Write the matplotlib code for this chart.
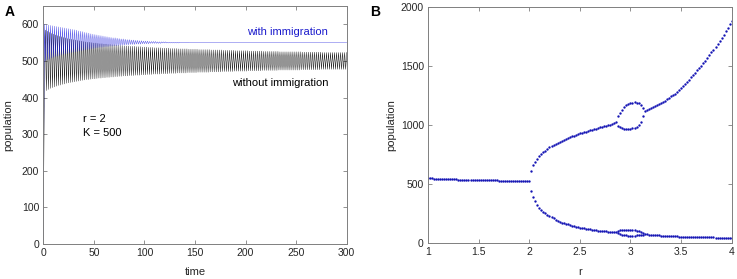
import numpy as np
import matplotlib
matplotlib.use("Agg")
import matplotlib.pyplot as plt

plt.rcParams['font.family'] = ['Liberation Sans', 'DejaVu Sans']

# ---------------- Panel A data (time series, r = 2, K = 500) ----------------
time_max = 300
black_start = 10
# without immigration: values at odd steps (troughs) and even steps (peaks)
black_troughs = [
    416, 419, 422, 425, 427, 429, 431, 433, 434, 436,
    437, 439, 440, 441, 442, 443, 444, 445, 446, 447,
    448, 449, 449, 450, 451, 451, 452, 453, 453, 454,
    454, 455, 455, 456, 456, 457, 457, 458, 458, 459,
    459, 459, 460, 460, 460, 461, 461, 461, 462, 462,
    462, 463, 463, 463, 464, 464, 464, 464, 465, 465,
    465, 465, 466, 466, 466, 466, 467, 467, 467, 467,
    467, 468, 468, 468, 468, 468, 469, 469, 469, 469,
    469, 469, 470, 470, 470, 470, 470, 470, 471, 471,
    471, 471, 471, 471, 472, 472, 472, 472, 472, 472,
    472, 473, 473, 473, 473, 473, 473, 473, 474, 474,
    474, 474, 474, 474, 474, 474, 475, 475, 475, 475,
    475, 475, 475, 475, 475, 475, 475, 476, 476, 476,
    476, 476, 476, 476, 476, 476, 476, 477, 477, 477,
    477, 477, 477, 477, 477, 477, 477, 477, 477, 477,
]
black_peaks = [
    584, 581, 578, 575, 573, 571, 569, 567, 566, 564,
    563, 561, 560, 559, 558, 557, 556, 555, 554, 553,
    552, 551, 551, 550, 549, 549, 548, 547, 547, 546,
    546, 545, 545, 544, 544, 543, 543, 542, 542, 541,
    541, 541, 540, 540, 540, 539, 539, 539, 538, 538,
    538, 537, 537, 537, 536, 536, 536, 536, 535, 535,
    535, 535, 534, 534, 534, 534, 533, 533, 533, 533,
    533, 532, 532, 532, 532, 532, 531, 531, 531, 531,
    531, 531, 530, 530, 530, 530, 530, 530, 529, 529,
    529, 529, 529, 529, 528, 528, 528, 528, 528, 528,
    528, 527, 527, 527, 527, 527, 527, 527, 526, 526,
    526, 526, 526, 526, 526, 526, 525, 525, 525, 525,
    525, 525, 525, 525, 525, 525, 525, 524, 524, 524,
    524, 524, 524, 524, 524, 524, 524, 523, 523, 523,
    523, 523, 523, 523, 523, 523, 523, 523, 523, 523,
]
# with immigration
blue_start = 10
blue_peaks = [
    600, 599, 598, 597, 596, 595, 594, 593, 592, 591,
    590, 589, 588, 587, 586, 585, 584, 582, 581, 580,
    578, 577, 576, 574, 573, 572, 571, 570, 569, 568,
    567, 566, 565, 564, 563, 563, 562, 561, 560, 560,
    559, 558, 558, 557, 557, 556, 556, 555, 555, 554,
    554, 554, 553, 553, 553, 553, 552, 552, 552, 552,
    552, 551, 551, 551, 551, 551, 551, 551, 551, 551,
    551, 551, 550, 550, 550, 550, 550, 550, 550, 550,
    550, 550, 550, 550, 550, 550, 550, 550, 550, 550,
    550, 550, 550, 550, 550, 550, 550, 550, 550, 550,
    550, 550, 550, 550, 550, 550, 550, 550, 550, 550,
    550, 550, 550, 550, 550, 550, 550, 550, 550, 550,
    550, 550, 550, 550, 550, 550, 550, 550, 550, 550,
    550, 550, 550, 550, 550, 550, 550, 550, 550, 550,
    550, 550, 550, 550, 550, 550, 550, 550, 550, 550,
]
blue_troughs = [
    500, 503, 505, 508, 510, 512, 513, 515, 517, 518,
    519, 521, 522, 523, 524, 525, 526, 527, 528, 529,
    530, 531, 532, 533, 534, 535, 536, 537, 537, 538,
    539, 539, 540, 540, 541, 541, 542, 542, 543, 543,
    544, 544, 545, 545, 545, 546, 546, 546, 547, 547,
    547, 547, 548, 548, 548, 548, 548, 548, 549, 549,
    549, 549, 549, 549, 549, 549, 549, 550, 550, 550,
    550, 550, 550, 550, 550, 550, 550, 550, 550, 550,
    550, 550, 550, 550, 550, 550, 550, 550, 550, 550,
    550, 550, 550, 550, 550, 550, 550, 550, 550, 550,
    550, 550, 550, 550, 550, 550, 550, 550, 550, 550,
    550, 550, 550, 550, 550, 550, 550, 550, 550, 550,
    550, 550, 550, 550, 550, 550, 550, 550, 550, 550,
    550, 550, 550, 550, 550, 550, 550, 550, 550, 550,
    550, 550, 550, 550, 550, 550, 550, 550, 550, 550,
]

# ---------------- Panel B data (bifurcation diagram) ----------------
pop_single = [  # r = 1.00 .. 2.00
    550, 549, 548, 547, 547, 546, 545, 544, 544, 543,
    542, 542, 541, 540, 540, 539, 539, 538, 538, 537,
    537, 536, 536, 535, 535, 534, 534, 533, 533, 533,
    532, 532, 531, 531, 531, 530, 530, 530, 529, 529,
    529, 528, 528, 528, 528, 527, 527, 527, 526, 526, 526,
]
upper_pre = [  # r = 2.02 .. 2.86
    615, 660, 690, 714, 734, 752, 768, 783, 797, 810,
    821, 832, 842, 851, 860, 868, 876, 884, 891, 898,
    905, 911, 917, 923, 929, 934, 939, 944, 949, 954,
    959, 964, 969, 974, 979, 984, 989, 994, 999, 1004,
    1010, 1016, 1025,
]
lower_pre = [  # r = 2.02 .. 2.86
    440, 390, 355, 326, 302, 282, 266, 252, 241, 231,
    220, 210, 200, 190, 181, 175, 169, 164, 159, 155,
    150, 145, 140, 136, 132, 129, 126, 123, 120, 117,
    115, 112, 110, 107, 105, 104, 102, 101, 99, 98,
    97, 97, 96,
]
loop_hi = [1075, 1105, 1130, 1150, 1165, 1177, 1185, 1190, 1192, 1190, 1182, 1165, 1140]  # r = 2.88 .. 3.12
loop_lo = [995, 980, 972, 967, 965, 965, 967, 971, 977, 986, 1000, 1025, 1075]
bubble_hi = [105, 110, 113, 115, 116, 116, 115, 113, 110, 106, 100, 92, 84]
bubble_lo = [88, 80, 74, 70, 67, 65, 64, 64, 65, 66, 68, 71, 74]
upper_post = [  # r = 3.14 .. 4.00
    1120, 1128, 1136, 1144, 1152, 1160, 1168, 1176, 1184, 1195,
    1207, 1218, 1230, 1241, 1253, 1264, 1276, 1292, 1310, 1328,
    1346, 1364, 1383, 1402, 1421, 1441, 1461, 1481, 1502, 1523,
    1545, 1567, 1590, 1613, 1637, 1661, 1686, 1712, 1738, 1765,
    1793, 1821, 1850, 1880,
]
lower_post = [  # r = 3.14 .. 4.00
    78, 76, 74, 72, 71, 69, 68, 67, 65, 64,
    63, 62, 61, 60, 59, 58, 58, 57, 56, 56,
    55, 55, 54, 54, 53, 53, 52, 52, 52, 51,
    51, 51, 50, 50, 50, 49, 49, 49, 49, 48,
    48, 48, 48, 48,
]

def interleave(start, odd_vals, even_vals):
    out = [start]
    for a, b in zip(odd_vals, even_vals):
        out += [a, b]
    return np.array(out, dtype=float)

black = interleave(black_start, black_troughs, black_peaks)
blue = interleave(blue_start, blue_peaks, blue_troughs)
t = np.arange(len(black))

r_single = np.linspace(1.0, 2.0, len(pop_single))
r_pre = np.linspace(2.02, 2.86, len(upper_pre))
r_loop = np.linspace(2.88, 3.12, len(loop_hi))
r_post = np.linspace(3.14, 4.00, len(upper_post))

# ---------------- figure ----------------
W, H = 737, 279
fig = plt.figure(figsize=(W / 100, H / 100), dpi=100)

def px_axes(l, r, top, bottom):
    return fig.add_axes([l / W, 1 - bottom / H, (r - l) / W, (bottom - top) / H])

axis_col = '#262626'
fs = 8
tfs = 7.5

def style(ax):
    for s in ax.spines.values():
        s.set_color('#7f7f7f')
        s.set_linewidth(0.7)
    ax.tick_params(direction='in', length=3, width=0.6, color='#7f7f7f',
                   labelsize=tfs, labelcolor=axis_col, top=True, right=True, pad=3)

axA = px_axes(43.3, 346.7, 6, 244)
axA.plot(t, black, color='black', lw=0.3)
axA.plot(t, blue, color='#2020e0', lw=0.3, alpha=0.85)
axA.set_xlim(0, 300)
axA.set_ylim(0, 650)
axA.set_xticks(np.arange(0, 301, 50))
axA.set_yticks(np.arange(0, 601, 100))
style(axA)
axA.text(201, 578, 'with immigration', color='#1a1acc', fontsize=fs, va='center', ha='left')
axA.text(187, 441, 'without immigration', color='black', fontsize=fs, va='center', ha='left')
axA.text(39, 342, 'r = 2', color='black', fontsize=fs, va='center', ha='left')
axA.text(39, 304, 'K = 500', color='black', fontsize=fs, va='center', ha='left')
axA.set_xlabel('time', fontsize=fs, color=axis_col)
axA.set_ylabel('population', fontsize=fs, color=axis_col)
axA.xaxis.set_label_coords(0.5, (244 - 272) / 238)
axA.xaxis.label.set_va('center')
axA.yaxis.set_label_coords((8.5 - 43.3) / 303.4, 0.5)
axA.yaxis.label.set_va('center')

axB = px_axes(428, 731.7, 6.7, 243.3)
dot = dict(ls='none', marker='o', ms=1.7, mew=0, color='#1414b4')
axB.plot(r_single, pop_single, **dot)
axB.plot(r_pre, upper_pre, **dot)
axB.plot(r_pre, lower_pre, **dot)
axB.plot(r_loop, loop_hi, **dot)
axB.plot(r_loop, loop_lo, **dot)
axB.plot(r_loop, bubble_hi, **dot)
axB.plot(r_loop, bubble_lo, **dot)
axB.plot(r_post, upper_post, **dot)
axB.plot(r_post, lower_post, **dot)
axB.set_xlim(1, 4)
axB.set_ylim(0, 2000)
axB.set_xticks([1, 1.5, 2, 2.5, 3, 3.5, 4])
axB.set_xticklabels(['1', '1.5', '2', '2.5', '3', '3.5', '4'])
axB.set_yticks([0, 500, 1000, 1500, 2000])
style(axB)
axB.set_xlabel('r', fontsize=fs, color=axis_col)
axB.set_ylabel('population', fontsize=fs, color=axis_col)
axB.xaxis.set_label_coords(0.5, (243.3 - 272) / 236.6)
axB.xaxis.label.set_va('center')
axB.yaxis.set_label_coords((391 - 428) / 303.7, 0.5)
axB.yaxis.label.set_va('center')

fig.text(10 / W, 1 - 12 / H, 'A', fontsize=10, fontweight='bold', ha='center', va='center')
fig.text(375 / W, 1 - 12 / H, 'B', fontsize=10, fontweight='bold', ha='center', va='center')

fig.savefig('out.png', dpi=100)
